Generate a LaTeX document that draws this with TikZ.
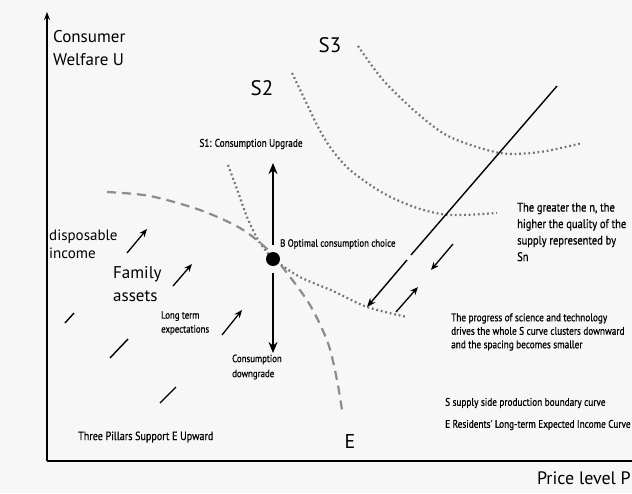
\documentclass[tikz,border=0pt]{standalone}
\usepackage{fontspec}
\setmainfont{PT Sans}
\newfontfamily\narrowsf[FakeStretch=0.84, FakeBold=0.7]{PT Sans}
\usetikzlibrary{arrows.meta}

\begin{document}
\begin{tikzpicture}[x=1pt, y=-1pt,
  axis/.style={line width=1.6pt},
  scurve/.style={black!55, line width=2.2pt, dash pattern=on 1.8pt off 2.8pt},
  ecurve/.style={black!45, line width=2.2pt, dash pattern=on 9pt off 6pt},
  supply/.style={line width=1.4pt},
  bigarrow/.style={-{Stealth[length=11pt,width=9pt]}, line width=2.6pt},
  arrow/.style={-{Stealth[length=8pt,width=6.5pt]}, line width=1.3pt},
  pillar/.style={line width=1.4pt},
  big/.style={font=\fontsize{21}{24}\selectfont},
  lbl/.style={font=\fontsize{17}{23}\selectfont, align=left, anchor=west, inner sep=0pt},
  note/.style={font=\narrowsf\fontsize{11}{13.5}\selectfont, align=left, anchor=west, inner sep=0pt}
]
\fill[black!3] (0,0) rectangle (632,493);
\useasboundingbox (0,0) rectangle (632,493);

% axes
\coordinate (origin) at (47,461);
\coordinate (ytop) at (47,12);
\coordinate (xend) at (632,461);
\draw[axis, -{Stealth[length=8pt,width=6pt]}] (origin) -- (ytop);
\draw[axis] (origin) -- (xend);
\node[lbl] (ulabel) at (53,48) {Consumer\\Welfare U};
\node[lbl, font=\fontsize{18}{20}\selectfont, anchor=east] (plabel) at (631,478) {Price level P};

% supply curves S1, S2, S3
\draw[scurve] plot[smooth] coordinates {(358,46) (383,80) (417,113) (450,137) (500,153) (540,152) (582,143)};
\draw[scurve] plot[smooth] coordinates {(292,73) (305,100) (317,125) (330,147) (350,170) (383,193) (417,208) (450,215) (497,213)};
\draw[scurve] plot[smooth] coordinates {(228,165) (238,192) (247,217) (258,240) (267,252) (273,259) (300,277) (333,291) (367,307) (407,317)};
\node[big] (sthree) at (330,45) {S3};
\node[big] (stwo) at (262,88) {S2};

% expected income curve E
\draw[ecurve] plot[smooth] coordinates {(107,192) (150,196) (200,210) (240,228) (267,249) (287,273) (310,305) (328,343) (337,380) (342,410)};
\node[big, font=\fontsize{20}{24}\selectfont] (ecurve) at (350,441) {E};

% optimal point B
\node[circle, fill, inner sep=0pt, minimum size=14pt] (B) at (273,259) {};
\coordinate (up) at (273,163);
\coordinate (down) at (273,353);
\draw[bigarrow, shorten <=7pt] (B) -- (up);
\draw[bigarrow, shorten <=7pt] (B) -- (down);
\node[note, anchor=center] (upgrade) at (251,144) {S1: Consumption Upgrade};
\node[note, font=\narrowsf\fontsize{10.5}{13}\selectfont] (bchoice) at (280,244) {B Optimal consumption choice};
\node[note, font=\narrowsf\fontsize{10.5}{15}\selectfont] (downgrade) at (232,367) {Consumption\\downgrade};

% supply side line
\coordinate (stop) at (557,86);
\coordinate (sgap) at (411,255);
\coordinate (sback) at (407,260);
\coordinate (sbot) at (367,307);
\draw[supply] (stop) -- (sgap);
\draw[supply, -{Stealth[length=9pt,width=7pt]}] (sback) -- (sbot);
\coordinate (dnA) at (453,244);
\coordinate (dnB) at (431,270);
\draw[arrow] (dnA) -- (dnB);
\coordinate (upA) at (396,312);
\coordinate (upB) at (418,287);
\draw[arrow] (upA) -- (upB);

% notes on the right
\node[note, font=\narrowsf\fontsize{12.5}{16.5}\selectfont] (greater) at (517,232) {The greater the n, the\\higher the quality of the\\supply represented by\\Sn};
\node[note] (progress) at (451,332) {The progress of science and technology\\drives the whole S curve clusters downward\\and the spacing becomes smaller};
\node[note] (slegend) at (445,403) {S supply side production boundary curve};
\node[note] (elegend) at (445,425) {E Residents' Long-term Expected Income Curve};

% three pillars
\node[lbl, font=\fontsize{15}{18}\selectfont] (income) at (49,244) {disposable\\income};
\node[lbl] (assets) at (113,284) {Family\\assets};
\node[note, font=\narrowsf\fontsize{10.5}{14}\selectfont] (expect) at (161,323) {Long term\\expectations};
\coordinate (aA) at (127,253);
\coordinate (aB) at (147,229);
\draw[arrow] (aA) -- (aB);
\coordinate (bA) at (173,286);
\coordinate (bB) at (192,264);
\draw[arrow] (bA) -- (bB);
\coordinate (cA) at (222,335);
\coordinate (cB) at (242,310);
\draw[arrow] (cA) -- (cB);
\coordinate (pA) at (65,323);
\coordinate (pB) at (74,313);
\draw[pillar] (pA) -- (pB);
\coordinate (qA) at (110,358);
\coordinate (qB) at (128,339);
\draw[pillar] (qA) -- (qB);
\coordinate (rA) at (160,403);
\coordinate (rB) at (176,387);
\draw[pillar] (rA) -- (rB);
\node[note, font=\narrowsf\fontsize{12}{14}\selectfont] (pillars) at (78,437) {Three Pillars Support E Upward};
\end{tikzpicture}
\end{document}
